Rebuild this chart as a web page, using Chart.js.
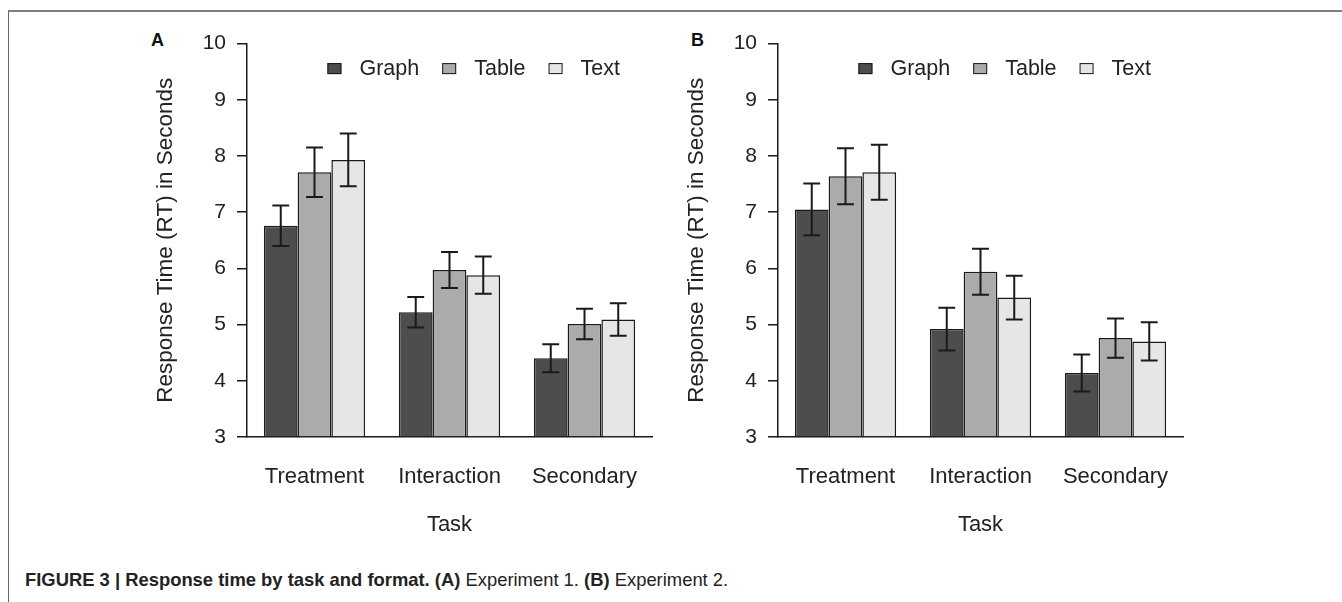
<!DOCTYPE html>
<html lang="en">
<head>
    <meta charset="UTF-8">
    <title>Figure 3 - Response time by task and format</title>
    <script src="https://cdn.jsdelivr.net/npm/chart.js"></script>
    <style>
        body { margin: 0; background: #fff; width: 1342px; height: 602px; overflow: hidden; position: relative; font-family: "Liberation Sans", Arial, sans-serif; }
        .frame { position: absolute; left: 8px; top: 10px; right: 0; bottom: 0; border-top: 2px solid #808080; border-left: 1px solid #666; }
        .panel { position: absolute; top: 20px; width: 530px; height: 520px; }
        #panelA { left: 140px; }
        #panelB { left: 671px; }
        .letter { position: absolute; top: 31px; font-size: 18px; line-height: 18px; font-weight: bold; color: #111; }
        .caption { position: absolute; left: 25px; top: 570px; font-size: 18.4px; line-height: 20px; color: #222; white-space: nowrap; }
        .caption b { font-weight: bold; }
    </style>
</head>
<body>
    <div class="frame"></div>
    <div class="letter" style="left:151px">A</div>
    <div class="letter" style="left:691px">B</div>
    <div class="panel" id="panelA"><canvas id="chartA" width="530" height="520"></canvas></div>
    <div class="panel" id="panelB"><canvas id="chartB" width="530" height="520"></canvas></div>
    <div class="caption"><b>FIGURE 3 | Response time by task and format. (A)</b> Experiment 1. <b>(B)</b> Experiment 2.</div>

    <script>
        const tasks = ["Treatment", "Interaction", "Secondary"];
        const formats = ["Graph", "Table", "Text"];
        const formatColors = ["#4d4d4d", "#ababab", "#e6e6e6"];
        const yTicks = [3, 4, 5, 6, 7, 8, 9, 10];

        // Experiment 1: mean RT and error bar half-length, per task
        const exp1Graph = [6.76, 5.22, 4.40];
        const exp1Table = [7.71, 5.97, 5.01];
        const exp1Text = [7.93, 5.88, 5.09];
        const exp1GraphErr = [0.36, 0.27, 0.25];
        const exp1TableErr = [0.44, 0.32, 0.27];
        const exp1TextErr = [0.47, 0.33, 0.29];

        // Experiment 2
        const exp2Graph = [7.05, 4.92, 4.14];
        const exp2Table = [7.64, 5.94, 4.76];
        const exp2Text = [7.71, 5.48, 4.70];
        const exp2GraphErr = [0.46, 0.38, 0.33];
        const exp2TableErr = [0.50, 0.41, 0.35];
        const exp2TextErr = [0.49, 0.39, 0.34];

        const ink = "#1a1a1a";
        const fontFamily = "'Liberation Sans', Arial, sans-serif";

        const errorBars = {
            id: "errorBars",
            afterDatasetsDraw(chart) {
                const ctx = chart.ctx;
                const y = chart.scales.y;
                ctx.save();
                ctx.strokeStyle = ink;
                ctx.lineWidth = 2;
                chart.data.datasets.forEach((ds, i) => {
                    chart.getDatasetMeta(i).data.forEach((bar, j) => {
                        const hi = y.getPixelForValue(ds.data[j] + ds.errors[j]);
                        const lo = y.getPixelForValue(ds.data[j] - ds.errors[j]);
                        const half = bar.width / 4;
                        ctx.beginPath();
                        ctx.moveTo(bar.x, hi); ctx.lineTo(bar.x, lo);
                        ctx.moveTo(bar.x - half, hi); ctx.lineTo(bar.x + half, hi);
                        ctx.moveTo(bar.x - half, lo); ctx.lineTo(bar.x + half, lo);
                        ctx.stroke();
                    });
                });
                ctx.restore();
            }
        };

        // legend sits inside the plot, top right
        const insideLegend = {
            id: "insideLegend",
            afterDraw(chart) {
                const ctx = chart.ctx;
                const area = chart.chartArea;
                const boxW = 14, boxH = 11, gap = 18, spacing = 23;
                ctx.save();
                ctx.font = "21.5px " + fontFamily;
                const items = chart.data.datasets;
                let total = 0;
                items.forEach((ds, i) => {
                    total += boxW + gap + ctx.measureText(ds.label).width;
                    if (i < items.length - 1) total += spacing;
                });
                let x = area.right - 32 - total;
                const yc = area.top + 25;
                ctx.textBaseline = "middle";
                items.forEach(ds => {
                    ctx.fillStyle = ds.backgroundColor;
                    ctx.fillRect(x, yc - boxH / 2, boxW, boxH);
                    ctx.strokeStyle = ink;
                    ctx.lineWidth = 1;
                    ctx.strokeRect(x + 0.5, yc - boxH / 2 + 0.5, boxW - 1, boxH - 1);
                    x += boxW + gap;
                    ctx.fillStyle = "#222";
                    ctx.fillText(ds.label, x, yc);
                    x += ctx.measureText(ds.label).width + spacing;
                });
                ctx.restore();
            }
        };

        function makeChart(id, series, errs) {
            const ctx = document.getElementById(id).getContext("2d");
            return new Chart(ctx, {
                type: "bar",
                data: {
                    labels: tasks,
                    datasets: formats.map((f, i) => ({
                        label: f,
                        data: series[i],
                        errors: errs[i],
                        backgroundColor: formatColors[i],
                        borderColor: ink,
                        borderWidth: 1.5,
                        base: 3,
                        barPercentage: 1,
                        categoryPercentage: 0.75
                    }))
                },
                options: {
                    responsive: false,
                    animation: false,
                    layout: { padding: { left: 0, top: 17, right: 18, bottom: 0 } },
                    plugins: {
                        legend: { display: false },
                        tooltip: { enabled: false }
                    },
                    scales: {
                        x: {
                            grid: { display: true, drawOnChartArea: false, drawTicks: false, color: "transparent" },
                            border: { display: true, color: ink, width: 1.5 },
                            ticks: { color: "#222", font: { size: 22, family: fontFamily }, padding: 27 },
                            title: { display: true, text: "Task", color: "#222", font: { size: 22, family: fontFamily }, padding: { top: 0, bottom: 2 } },
                            afterFit: s => { s.height = 103; }
                        },
                        y: {
                            min: 3,
                            max: 10,
                            afterBuildTicks: s => { s.ticks = yTicks.map(v => ({ value: v })); },
                            grid: { display: true, drawOnChartArea: false, drawTicks: true, tickLength: 10, color: ink, lineWidth: 1.5 },
                            border: { display: true, color: ink, width: 1.5 },
                            ticks: { color: "#222", font: { size: 21, family: fontFamily }, padding: 11 },
                            title: { display: true, text: "Response Time (RT) in Seconds", color: "#222", font: { size: 22.5, family: fontFamily }, padding: { top: 12, bottom: 0 } },
                            afterFit: s => { s.width = 107; }
                        }
                    }
                },
                plugins: [errorBars, insideLegend]
            });
        }

        makeChart("chartA", [exp1Graph, exp1Table, exp1Text], [exp1GraphErr, exp1TableErr, exp1TextErr]);
        makeChart("chartB", [exp2Graph, exp2Table, exp2Text], [exp2GraphErr, exp2TableErr, exp2TextErr]);
    </script>
</body>
</html>
